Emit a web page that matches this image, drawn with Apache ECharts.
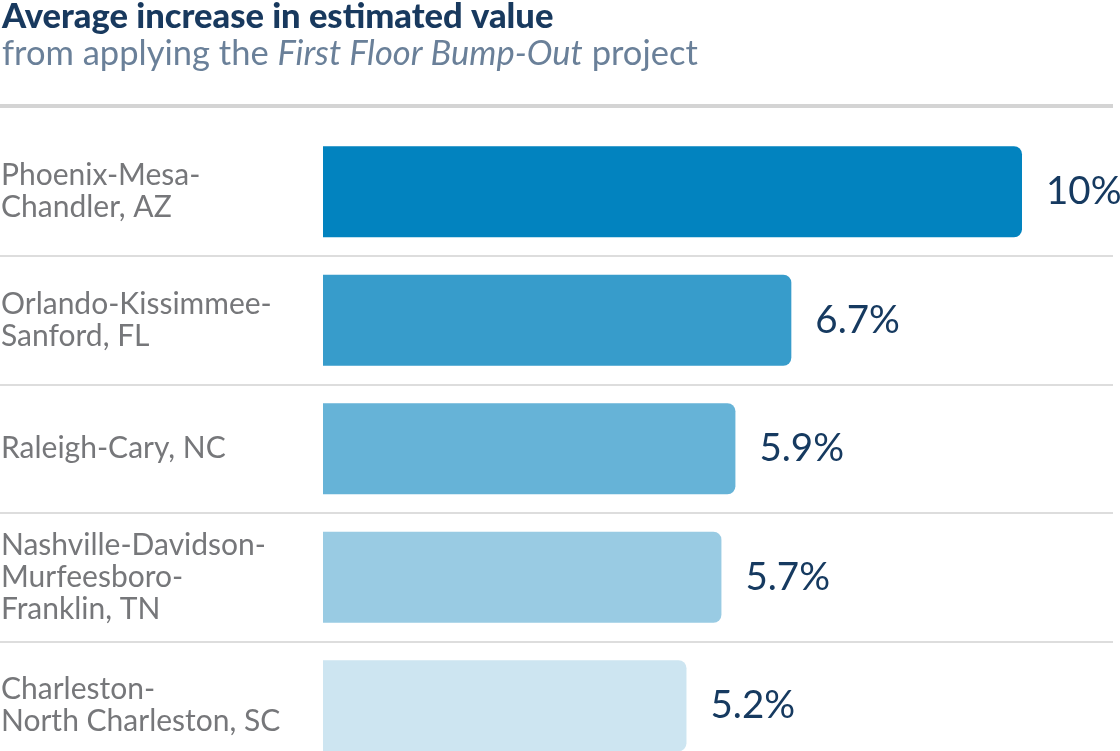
<!DOCTYPE html>
<html>
<head>
<meta charset="utf-8">
<script src="https://cdn.jsdelivr.net/npm/echarts@6/dist/echarts.min.js"></script>
<style>
html,body{margin:0;padding:0;background:#fff;overflow:hidden;}
#chart{width:1120px;height:771px;}
</style>
</head>
<body>
<div id="chart"></div>
<script>
const titleText = 'Average increase in estimated value';
const subtitleParts = ['from applying the ', 'First Floor Bump-Out', ' project'];
const categories = [
  'Phoenix-Mesa-\nChandler, AZ',
  'Orlando-Kissimmee-\nSanford, FL',
  'Raleigh-Cary, NC',
  'Nashville-Davidson-\nMurfeesboro-\nFranklin, TN',
  'Charleston-\nNorth Charleston, SC'
];
const values = [10, 6.7, 5.9, 5.7, 5.2];
const barColors = ['#0283BF', '#379CCB', '#66B3D7', '#99CBE3', '#CDE5F1'];

const FONT = 'Lato';
const chart = echarts.init(document.getElementById('chart'), null, {renderer: 'canvas'});

// value axis: 0 at x=323, 10 at x=1022 in a grid spanning x=0..1113
const pxPerUnit = (1022 - 323) / 10;
const gridLeft = 0, gridRight = 7;
const gridWidth = 1120 - gridLeft - gridRight;
const xMin = -(323 - gridLeft) / pxPerUnit;
const xMax = xMin + gridWidth / pxPerUnit;

chart.setOption({
  animation: false,
  backgroundColor: '#ffffff',
  title: {
    left: -3,
    top: -6,
    text: titleText,
    subtext: subtitleParts[0] + '{i|' + subtitleParts[1] + '}' + subtitleParts[2],
    itemGap: 2,
    textStyle: {fontFamily: FONT, fontSize: 34.5, fontWeight: 900, color: '#18395E'},
    subtextStyle: {
      fontFamily: FONT, fontSize: 34.5, color: '#6A8099',
      rich: {i: {fontFamily: FONT, fontSize: 34.5, fontStyle: 'italic', color: '#6A8099'}}
    }
  },
  graphic: [{
    type: 'line',
    shape: {x1: 0, y1: 106, x2: 1113, y2: 106},
    style: {stroke: '#D4D4D4', lineWidth: 4}
  }],
  grid: {left: gridLeft, right: gridRight, top: 127.5, bottom: 1, containLabel: false, outerBoundsMode: 'none'},
  xAxis: {
    type: 'value', min: xMin, max: xMax, show: false
  },
  yAxis: {
    type: 'category',
    inverse: true,
    data: categories,
    axisLine: {show: false},
    axisTick: {show: false},
    splitLine: {
      show: true,
      interval: function (index) { return index !== 0; },
      lineStyle: {color: '#DDDDDD', width: 2}
    },
    axisLabel: {
      inside: true,
      margin: 1,
      align: 'left',
      verticalAlign: 'middle',
      fontFamily: FONT,
      fontSize: 30,
      lineHeight: 32,
      color: '#76777A'
    }
  },
  series: [{
    type: 'bar',
    data: values.map((v, i) => ({value: v, itemStyle: {color: barColors[i]}})),
    barWidth: 91,
    itemStyle: {borderRadius: [0, 8, 8, 0]},
    label: {
      show: true,
      position: 'right',
      distance: 24,
      fontFamily: FONT,
      fontSize: 38.5,
      color: '#163A60',
      formatter: p => p.value + '%'
    }
  }]
});
</script>
</body>
</html>
